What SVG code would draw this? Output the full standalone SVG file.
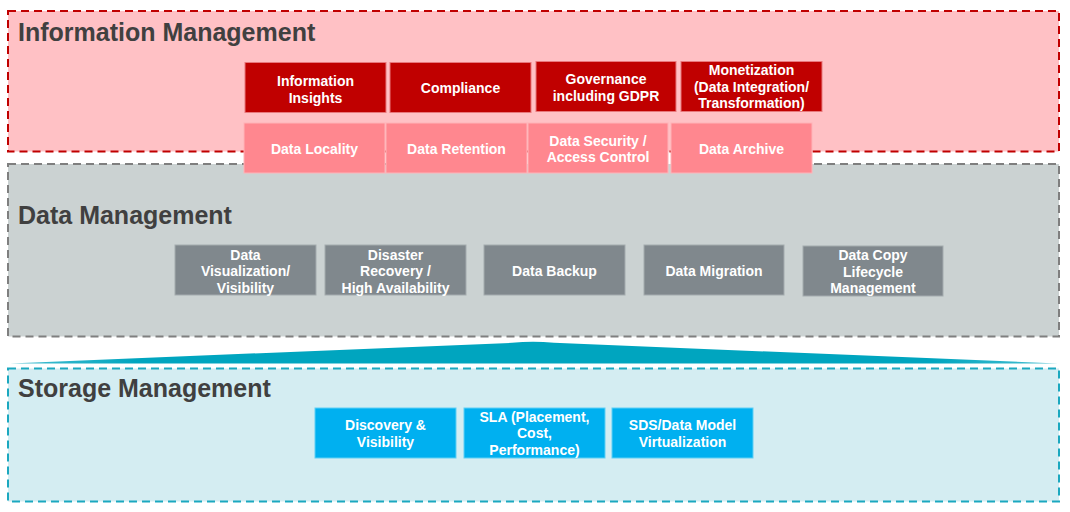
<svg xmlns="http://www.w3.org/2000/svg" width="1070" height="512" viewBox="0 0 1070 512">
<defs>
<style>
.frame{stroke-width:2;stroke-dasharray:8 5}
.title{font-family:"Liberation Sans",Arial,sans-serif;font-weight:bold;font-size:25px;fill:#404040}
.lbl{font-family:"Liberation Sans",Arial,sans-serif;font-weight:bold;font-size:14px;fill:#ffffff;text-anchor:middle}
.red{fill:#c00000;stroke:#e8787c;stroke-width:1}
.pink{fill:#ff878f;stroke:#ffb3b8;stroke-width:1}
.gray{fill:#80888d;stroke:#a4abae;stroke-width:1}
.blue{fill:#00b0f0;stroke:#5fd0f5;stroke-width:1}
</style>
<linearGradient id="tri" x1="0" y1="0" x2="1" y2="0">
<stop offset="0" stop-color="#4cc0d2"/>
<stop offset="0.12" stop-color="#00a5bf"/>
<stop offset="0.88" stop-color="#00a5bf"/>
<stop offset="1" stop-color="#4cc0d2"/>
</linearGradient>
</defs>
<rect width="1070" height="512" fill="#ffffff"/>

<g id="information-management">
<rect class="frame" x="8" y="11" width="1051" height="140.5" fill="#ffc1c5" stroke="#c00000"/>
<text class="title" x="18" y="40.5">Information Management</text>
</g>
<g id="data-management">
<rect class="frame" x="8" y="164" width="1051" height="172.5" fill="#cbd2d2" stroke="#7f7f7f"/>
<text class="title" x="18" y="223.5">Data Management</text>
</g>
<g id="storage-management">
<path d="M10,363.5 L512,342.8 Q533,340.6 554,342.8 L1058,363.5 Z" fill="url(#tri)"/>
<rect class="frame" x="8" y="368.5" width="1051" height="133" fill="#d4edf2" stroke="#1ba8bf"/>
<text class="title" x="18" y="396.5">Storage Management</text>
</g>

<g id="info-insights"><rect class="red" x="245" y="62.5" width="141" height="50"/><text class="lbl" x="315.5" y="86">Information</text><text class="lbl" x="315.5" y="102.5">Insights</text></g>
<g id="compliance"><rect class="red" x="390" y="62.5" width="141" height="50"/><text class="lbl" x="460.5" y="92.5">Compliance</text></g>
<g id="governance"><rect class="red" x="536" y="61.5" width="140" height="50"/><text class="lbl" x="606" y="84">Governance</text><text class="lbl" x="606" y="100.5">including GDPR</text></g>
<g id="monetization"><rect class="red" x="681" y="61.5" width="141" height="50"/><text class="lbl" x="751.5" y="75">Monetization</text><text class="lbl" x="751.5" y="91.5">(Data Integration/</text><text class="lbl" x="751.5" y="108">Transformation)</text></g>

<g id="data-locality"><rect class="pink" x="244" y="123" width="141" height="50"/><text class="lbl" x="314.5" y="153.5">Data Locality</text></g>
<g id="data-retention"><rect class="pink" x="386" y="123" width="141" height="50"/><text class="lbl" x="456.5" y="153.5">Data Retention</text></g>
<g id="data-security"><rect class="pink" x="528" y="123" width="140" height="50"/><text class="lbl" x="598" y="146">Data Security /</text><text class="lbl" x="598" y="162">Access Control</text></g>
<g id="data-archive"><rect class="pink" x="671" y="123" width="141" height="50"/><text class="lbl" x="741.5" y="153.5">Data Archive</text></g>

<g id="data-visualization"><rect class="gray" x="175" y="245" width="141" height="50"/><text class="lbl" x="245.5" y="259.5">Data</text><text class="lbl" x="245.5" y="276">Visualization/</text><text class="lbl" x="245.5" y="292.5">Visibility</text></g>
<g id="disaster-recovery"><rect class="gray" x="325" y="245" width="141" height="50"/><text class="lbl" x="395.5" y="259.5">Disaster</text><text class="lbl" x="395.5" y="276">Recovery /</text><text class="lbl" x="395.5" y="292.5">High Availability</text></g>
<g id="data-backup"><rect class="gray" x="484" y="245" width="141" height="50"/><text class="lbl" x="554.5" y="275.5">Data Backup</text></g>
<g id="data-migration"><rect class="gray" x="644" y="245" width="140" height="50"/><text class="lbl" x="714" y="275.5">Data Migration</text></g>
<g id="data-copy"><rect class="gray" x="803" y="246" width="140" height="50"/><text class="lbl" x="873" y="260">Data Copy</text><text class="lbl" x="873" y="276.5">Lifecycle</text><text class="lbl" x="873" y="293">Management</text></g>

<g id="discovery"><rect class="blue" x="315" y="408" width="141" height="50"/><text class="lbl" x="385.5" y="430">Discovery &amp;</text><text class="lbl" x="385.5" y="446.5">Visibility</text></g>
<g id="sla"><rect class="blue" x="464" y="408" width="141" height="50"/><text class="lbl" x="534.5" y="421.5">SLA (Placement,</text><text class="lbl" x="534.5" y="438">Cost,</text><text class="lbl" x="534.5" y="454.5">Performance)</text></g>
<g id="sds"><rect class="blue" x="612" y="408" width="141" height="50"/><text class="lbl" x="682.5" y="430">SDS/Data Model</text><text class="lbl" x="682.5" y="446.5">Virtualization</text></g>

<g id="connectors"></g>
</svg>
